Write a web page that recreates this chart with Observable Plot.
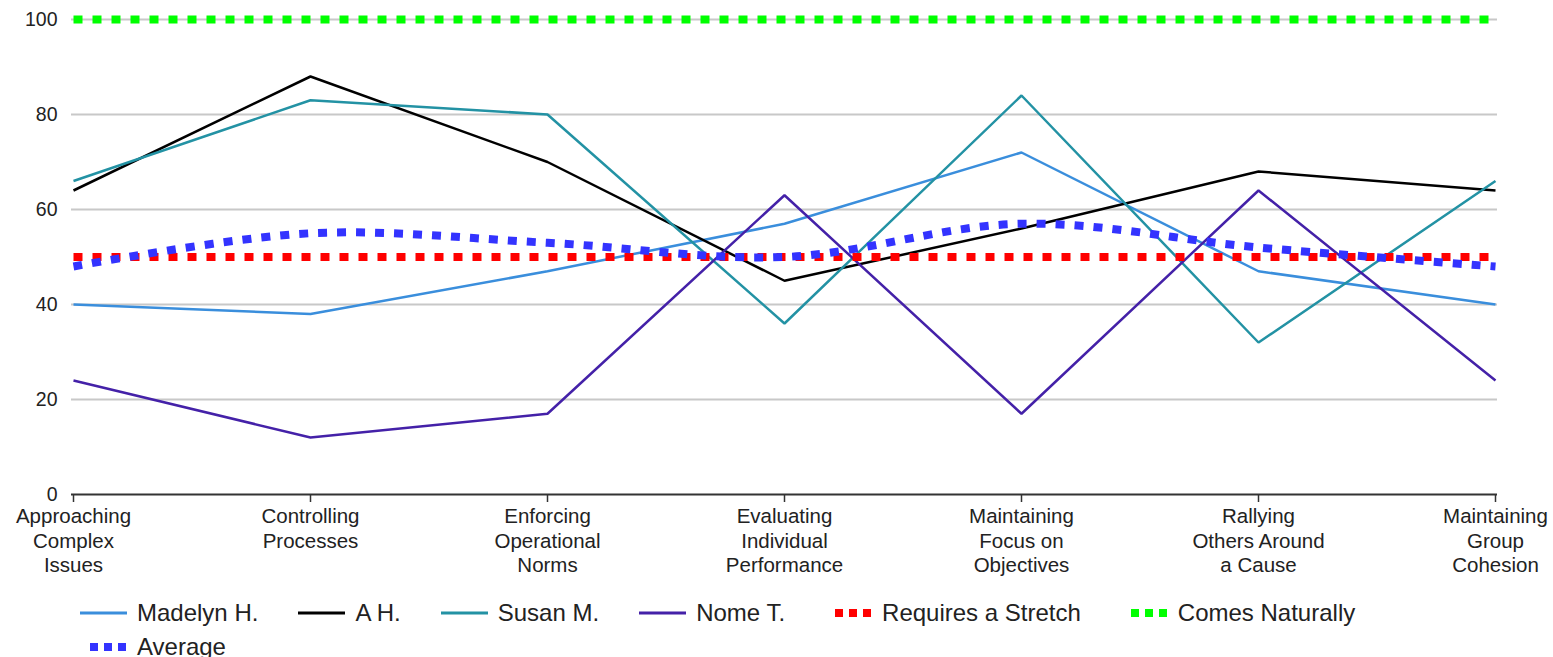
<!DOCTYPE html>
<html>
<head>
<meta charset="utf-8">
<script src="https://cdn.jsdelivr.net/npm/d3@7"></script>
<script src="https://cdn.jsdelivr.net/npm/@observablehq/plot@0.6"></script>
<style>
  html, body { margin: 0; padding: 0; background: #fff; }
  body { width: 1553px; height: 657px; overflow: hidden; font-family: "Liberation Sans", Arial, sans-serif; }
  #legend { position: relative; padding-top: 6px; padding-left: 80px; font-size: 24px; color: #222; }
  .row { display: flex; align-items: center; height: 34px; }
  .item { display: flex; align-items: center; margin-right: 40px; }
  .item svg { margin-right: 10px; }
</style>
</head>
<body>
<div id="chart"></div>
<div id="legend"></div>
<script>
const categories = [
  "Approaching Complex Issues",
  "Controlling Processes",
  "Enforcing Operational Norms",
  "Evaluating Individual Performance",
  "Maintaining Focus on Objectives",
  "Rallying Others Around a Cause",
  "Maintaining Group Cohesion"
];
const tickLabels = [
  "Approaching\nComplex\nIssues",
  "Controlling\nProcesses",
  "Enforcing\nOperational\nNorms",
  "Evaluating\nIndividual\nPerformance",
  "Maintaining\nFocus on\nObjectives",
  "Rallying\nOthers Around\na Cause",
  "Maintaining\nGroup\nCohesion"
];
const yTicks = [0, 20, 40, 60, 80, 100];

const madelyn = [40, 38, 47, 57, 72, 47, 40];
const ah      = [64, 88, 70, 45, 56, 68, 64];
const susan   = [66, 83, 80, 36, 84, 32, 66];
const nome    = [24, 12, 17, 63, 17, 64, 24];
const stretch = [50, 50, 50, 50, 50, 50, 50];
const natural = [100, 100, 100, 100, 100, 100, 100];
const average = [48, 55, 53, 50, 57, 52, 48];

const seriesNames = ["Madelyn H.", "A H.", "Susan M.", "Nome T.", "Requires a Stretch", "Comes Naturally", "Average"];
const seriesValues = [madelyn, ah, susan, nome, stretch, natural, average];

// styles (kept apart from data)
const seriesColors = ["#3a8edc", "#000000", "#2392a4", "#4421a8", "#ff0000", "#00ff00", "#3333ff"];
const seriesDotted = [false, false, false, false, true, true, true];
const seriesCurve = ["linear", "linear", "linear", "linear", "linear", "linear", "catmull-rom"];

const rows = [];
seriesNames.forEach((s, i) => {
  categories.forEach((c, j) => rows.push({series: s, cat: c, value: seriesValues[i][j]}));
});
const labelOf = new Map(categories.map((c, i) => [c, tickLabels[i]]));

const lineMarks = seriesNames.map((s, i) => Plot.line(rows.filter(r => r.series === s), {
  x: "cat",
  y: "value",
  stroke: seriesColors[i],
  strokeWidth: seriesDotted[i] ? 8 : 2.5,
  strokeDasharray: seriesDotted[i] ? "9,10" : null,
  strokeLinecap: "butt",
  strokeLinejoin: "miter",
  curve: seriesCurve[i]
}));

const chart = Plot.plot({
  width: 1553,
  height: 590,
  marginTop: 19,
  marginBottom: 96,
  marginLeft: 71,
  marginRight: 56,
  style: {fontFamily: "'Liberation Sans', Arial, sans-serif", fontSize: "19px", color: "#222", background: "#fff"},
  x: {type: "point", domain: categories, padding: 0},
  y: {domain: [0, 100]},
  marks: [
    Plot.ruleY(yTicks.filter(t => t > 0), {stroke: "#c8c8c8", strokeWidth: 2}),
    ...lineMarks,
    Plot.ruleY([0], {stroke: "#333", strokeWidth: 2}),
    Plot.axisY({ticks: yTicks, tickSize: 0, tickPadding: 14, label: null, fontSize: 19.5}),
    Plot.axisX({tickSize: 8, tickPadding: 3, stroke: "#333", strokeWidth: 1.5, label: null, fontSize: 20.5, lineHeight: 1.2, tickFormat: d => labelOf.get(d)})
  ]
});
document.getElementById("chart").appendChild(chart);

// legend
const legend = d3.select("#legend");
const rowsDef = [[0, 1, 2, 3, 4, 5], [6]];
rowsDef.forEach(idx => {
  const row = legend.append("div").attr("class", "row");
  idx.forEach(i => {
    const item = row.append("div").attr("class", "item");
    const svg = item.append("svg").attr("width", 47).attr("height", 12);
    if (seriesDotted[i]) {
      [10, 24, 38].forEach(x => svg.append("rect").attr("x", x).attr("y", 2).attr("width", 8).attr("height", 8).attr("fill", seriesColors[i]));
    } else {
      svg.append("line").attr("x1", 0).attr("x2", 47).attr("y1", 6).attr("y2", 6).attr("stroke", seriesColors[i]).attr("stroke-width", 3);
    }
    item.append("span").text(seriesNames[i]);
  });
});
</script>
</body>
</html>
